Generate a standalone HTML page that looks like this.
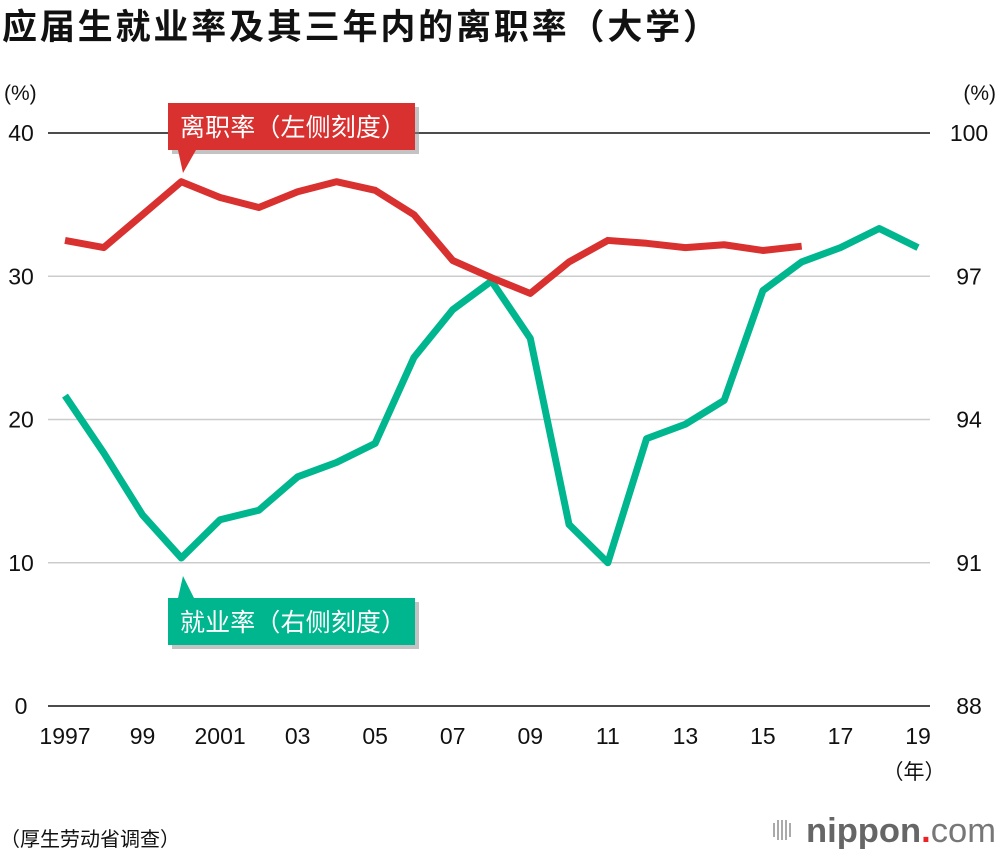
<!DOCTYPE html>
<html><head><meta charset="utf-8">
<style>
body{margin:0;background:#fff;width:1000px;height:856px;overflow:hidden;font-family:"Liberation Sans","Noto Sans CJK SC",sans-serif;}
svg text{font-family:"Liberation Sans","Noto Sans CJK SC",sans-serif;}
</style></head>
<body>
<svg id="chart" width="1000" height="856" xmlns="http://www.w3.org/2000/svg">
<text x="2" y="39" font-size="35" font-weight="bold" fill="#111" textLength="716" lengthAdjust="spacing">应届生就业率及其三年内的离职率（大学）</text>
<text x="4" y="100" font-size="21" fill="#111">(%)</text>
<text x="996" y="100" font-size="21" fill="#111" text-anchor="end">(%)</text>
<g id="grid"></g>
<g id="lines"></g>
<g id="callouts"></g>
<text x="914" y="779" font-size="21" fill="#111" text-anchor="middle">（年）</text>
<text x="0" y="846" font-size="20" fill="#111">（厚生劳动省调查）</text>
<g>
<rect x="773" y="823" width="2" height="14" fill="#aaa"/><rect x="777" y="820" width="2" height="20" fill="#aaa"/><rect x="781" y="820" width="2" height="20" fill="#aaa"/><rect x="785" y="820" width="2" height="20" fill="#aaa"/><rect x="789" y="823" width="2" height="14" fill="#aaa"/>
<text x="806" y="842" font-size="34" font-weight="bold" fill="#666" textLength="190" lengthAdjust="spacingAndGlyphs">nippon<tspan fill="#e22">.</tspan><tspan font-weight="normal" fill="#777">com</tspan></text>
</g>
</svg>
<script>
const years=[1997,1998,1999,2000,2001,2002,2003,2004,2005,2006,2007,2008,2009,2010,2011,2012,2013,2014,2015,2016,2017,2018,2019];
const xTickLabels=["1997","99","2001","03","05","07","09","11","13","15","17","19"];
const leftTicks=[0,10,20,30,40];
const rightTicks=["88","91","94","97","100"];
const turnoverYears=[1997,1998,1999,2000,2001,2002,2003,2004,2005,2006,2007,2008,2009,2010,2011,2012,2013,2014,2015,2016];
const turnoverRate=[32.5,32.0,34.3,36.6,35.5,34.8,35.9,36.6,36.0,34.3,31.1,29.9,28.8,31.0,32.5,32.3,32.0,32.2,31.8,32.1];
const employmentRate=[94.5,93.3,92.0,91.1,91.9,92.1,92.8,93.1,93.5,95.3,96.3,96.9,95.7,91.8,91.0,93.6,93.9,94.4,96.7,97.3,97.6,98.0,97.6];

const NS="http://www.w3.org/2000/svg";
const x0=65,x1=918,yTop=133,yBot=706;
function xs(y){return x0+(y-1997)*(x1-x0)/22;}
function yl(v){return yBot-v*(yBot-yTop)/40;}
function yr(v){return yBot-(v-88)*(yBot-yTop)/12;}
function mk(tag,attrs,parent){const e=document.createElementNS(NS,tag);for(const k in attrs)e.setAttribute(k,attrs[k]);parent.appendChild(e);return e;}
const grid=document.getElementById('grid');
leftTicks.forEach((t,i)=>{
  const y=yl(t);const dark=(i===0||i===leftTicks.length-1);
  const l=mk('line',{x1:48,x2:930,y1:y,y2:y,stroke:dark?'#111':'#ccc','stroke-width':1.5},grid);
  
  
  const tl=mk('text',{x:21,y:y+8,'font-size':23,fill:'#111','text-anchor':'middle'},grid);tl.textContent=t;
  
  
  const tr=mk('text',{x:969,y:y+8,'font-size':23,fill:'#111','text-anchor':'middle'},grid);tr.textContent=rightTicks[i];
  
  
});
xTickLabels.forEach((s,i)=>{
  const yr_=1997+i*2;
  const t=mk('text',{x:xs(yr_),y:744,'font-size':23,fill:'#111','text-anchor':'middle'},grid);t.textContent=s;
  
  
});
const lines=document.getElementById('lines');
const g=mk('polyline',{points:years.map((y,i)=>xs(y)+','+yr(employmentRate[i])).join(' '),fill:'none',stroke:'#00b68f','stroke-width':7,'stroke-linejoin':'round'},lines);


const r=mk('polyline',{points:turnoverYears.map((y,i)=>xs(y)+','+yl(turnoverRate[i])).join(' '),fill:'none',stroke:'#d8312f','stroke-width':7,'stroke-linejoin':'round'},lines);



const c=document.getElementById('callouts');
function callout(name,color,yBox,up,text){
  const gg=mk('g',{},c);
  
  
  mk('rect',{x:172,y:yBox+4,width:247,height:47,fill:'#888',opacity:0.5},gg);
  mk('rect',{x:168,y:yBox,width:247,height:47,fill:color},gg);
  if(up) mk('polygon',{points:`178,${yBox} 194,${yBox} 183,${yBox-22}`,fill:color},gg);
  else mk('polygon',{points:`178,${yBox+47} 196,${yBox+47} 183,${yBox+70}`,fill:color},gg);
  const t=mk('text',{x:180,y:yBox+33,'font-size':25,fill:'#fff',textLength:226,lengthAdjust:'spacing'},gg);t.textContent=text;
}
callout('turnover-callout','#d8312f',103,false,'离职率（左侧刻度）');
callout('employment-callout','#00b68f',598,true,'就业率（右侧刻度）');
</script>
</body></html>
